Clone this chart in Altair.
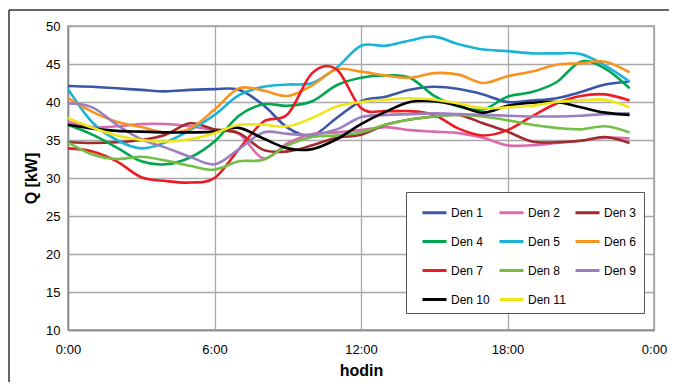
import altair as alt
import pandas as pd

hours = list(range(24))
series_names = ["Den 1", "Den 2", "Den 3", "Den 4", "Den 5", "Den 6",
                "Den 7", "Den 8", "Den 9", "Den 10", "Den 11"]
colors = ["#3B56A6", "#DB6BB1", "#9F2B2C", "#00A650", "#1BB4D8", "#F7931E",
          "#ED1C24", "#72BF44", "#9B80C1", "#000000", "#EEE619"]

den1 = [42.1, 42.0, 41.8, 41.6, 41.4, 41.6, 41.7, 41.6, 39.6, 36.6, 35.6, 37.9,
        40.1, 40.7, 41.6, 42.0, 41.7, 41.0, 40.0, 40.2, 40.5, 41.3, 42.3, 42.7]
den2 = [37.4, 36.7, 36.8, 37.1, 37.1, 36.8, 36.3, 35.8, 32.6, 34.6, 35.8, 36.0,
        36.3, 36.7, 36.3, 36.1, 35.9, 35.3, 34.3, 34.3, 34.6, 34.9, 35.3, 35.2]
den3 = [34.7, 34.6, 34.7, 35.0, 35.7, 37.2, 36.4, 35.9, 33.7, 33.5, 34.3, 35.3,
        35.7, 37.0, 37.7, 38.1, 38.3, 37.2, 36.1, 34.8, 34.7, 34.9, 35.4, 34.6]
den4 = [37.0, 35.7, 34.0, 32.2, 31.8, 32.7, 34.8, 38.2, 39.7, 39.5, 40.1, 42.2,
        43.2, 43.5, 43.2, 40.8, 39.4, 39.0, 40.7, 41.3, 42.6, 45.3, 44.4, 41.8]
den5 = [41.7, 37.3, 35.0, 33.9, 34.7, 36.3, 38.3, 40.9, 42.0, 42.3, 42.5, 44.5,
        47.4, 47.4, 48.1, 48.6, 47.6, 46.9, 46.7, 46.4, 46.4, 46.3, 44.8, 42.7]
den6 = [40.5, 38.7, 37.4, 36.7, 36.0, 36.5, 39.0, 41.8, 41.5, 40.8, 42.2, 44.3,
        44.0, 43.5, 43.2, 43.8, 43.6, 42.5, 43.4, 44.0, 44.9, 45.1, 45.3, 43.9]
den7 = [33.9, 33.5, 32.2, 30.1, 29.6, 29.4, 30.0, 33.8, 37.4, 38.4, 43.8, 44.3,
        39.2, 38.8, 38.8, 38.3, 36.5, 35.6, 36.3, 38.1, 39.8, 40.8, 41.0, 40.2]
den8 = [34.7, 33.1, 32.5, 32.8, 32.3, 31.6, 31.1, 32.2, 32.4, 34.3, 35.4, 35.6,
        36.0, 37.0, 37.7, 38.1, 38.3, 38.1, 37.6, 37.0, 36.6, 36.4, 36.8, 36.0]
den9 = [39.8, 39.3, 37.0, 35.1, 34.0, 32.8, 31.8, 33.8, 36.0, 35.8, 35.7, 36.4,
        38.0, 38.3, 38.4, 38.5, 38.4, 38.3, 38.2, 38.1, 38.1, 38.2, 38.4, 38.5]
den10 = [37.0, 36.5, 36.2, 36.1, 36.0, 36.0, 36.1, 36.6, 35.2, 33.9, 33.8, 35.1,
         37.1, 38.7, 40.0, 40.1, 39.5, 38.6, 39.5, 39.9, 40.0, 39.3, 38.6, 38.3]
den11 = [37.9, 36.6, 35.6, 35.0, 34.8, 35.1, 35.9, 37.0, 37.0, 36.8, 37.9, 39.4,
         40.0, 40.3, 40.5, 40.3, 39.8, 39.2, 39.3, 39.5, 40.0, 40.2, 40.3, 39.3]

all_series = [den1, den2, den3, den4, den5, den6, den7, den8, den9, den10, den11]

rows = []
for name, vals in zip(series_names, all_series):
    for h, v in zip(hours, vals):
        rows.append({"hour": h, "Q": v, "den": name})
df = pd.DataFrame(rows)

LABEL_FONT = "Liberation Sans, Arial"
TITLE_FONT = "Liberation Sans, Arial"

lines = alt.Chart(df).mark_line(interpolate="cardinal", strokeWidth=2.6).encode(
    x=alt.X("hour:Q",
            scale=alt.Scale(domain=[0, 24], nice=False),
            axis=alt.Axis(values=[0, 6, 12, 18, 24],
                          labelExpr="(datum.value % 24) + ':00'",
                          title="hodin")),
    y=alt.Y("Q:Q",
            scale=alt.Scale(domain=[10, 50], nice=False),
            axis=alt.Axis(values=[10, 15, 20, 25, 30, 35, 40, 45, 50],
                          title="Q [kW]")),
    color=alt.Color("den:N",
                    scale=alt.Scale(domain=series_names, range=colors),
                    sort=series_names,
                    legend=alt.Legend(title=None, orient="none",
                                      legendX=338, legendY=166,
                                      direction="horizontal",
                                      columns=3, symbolType="stroke",
                                      symbolSize=576, symbolStrokeWidth=3,
                                      symbolOffset=8,
                                      labelFont=LABEL_FONT, labelFontSize=12,
                                      labelColor="#000000", labelOffset=3,
                                      columnPadding=0, rowPadding=9,
                                      padding=7, fillColor="#ffffff",
                                      strokeColor="#555555")),
    detail="den:N",
)

frame_df = pd.DataFrame({"k": [0]})
frame_left = alt.Chart(frame_df).mark_rule(color="#333333", strokeWidth=1.5).encode(
    x=alt.value(-59), y=alt.value(-16), y2=alt.value(360))
frame_top = alt.Chart(frame_df).mark_rule(color="#333333", strokeWidth=1.5).encode(
    x=alt.value(-59), x2=alt.value(605), y=alt.value(-16))

chart = alt.layer(frame_left, frame_top, lines).properties(
    width=586, height=304,
    autosize=alt.AutoSizeParams(type="none"),
    padding={"left": 60, "top": 18, "right": 15, "bottom": 52},
).configure_view(
    stroke="#9a9a9a", strokeWidth=1.5
).configure_axis(
    grid=True, gridColor="#a8a8a8", gridWidth=1.3,
    domainColor="#8a8a8a", domainWidth=1.5, ticks=False,
    labelFont=LABEL_FONT, labelFontSize=13, labelColor="#000000",
    titleFont=TITLE_FONT, titleFontSize=16, titleFontWeight="bold",
    titleColor="#000000",
).configure_axisX(
    labelPadding=13, titlePadding=6, labelOverlap=False, labelFlush=False
).configure_axisY(
    labelPadding=8, titlePadding=6
)

chart.save("out.html", embed_options={"renderer": "svg", "actions": False})
